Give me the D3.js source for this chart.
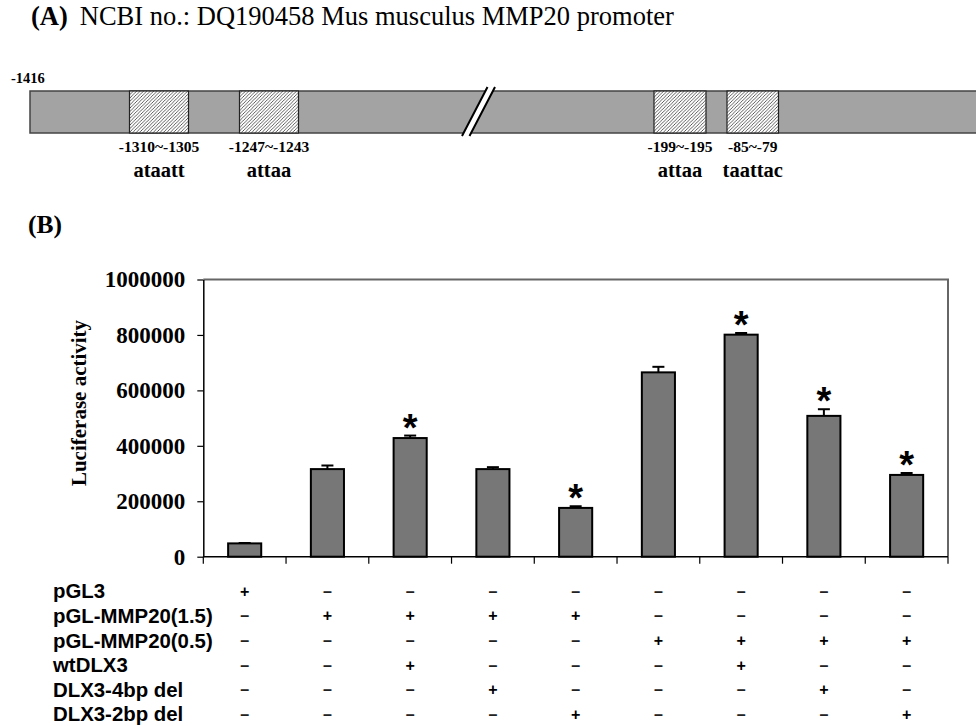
<!DOCTYPE html>
<html>
<head>
<meta charset="utf-8">
<script src="https://cdn.jsdelivr.net/npm/d3@7/dist/d3.min.js"></script>
<style>
  body { margin: 0; background: #fff; }
  .serif { font-family: "Liberation Serif", "Times New Roman", serif; }
  .sans { font-family: "Liberation Sans", Arial, sans-serif; }
</style>
</head>
<body>
<svg id="fig" width="976" height="726"></svg>
<script>
// (A) promoter motifs
let motifStart = [-1310, -1247, -199, -85];
let motifEnd = [-1305, -1243, -195, -79];
let motifSeq = ["ataatt", "attaa", "attaa", "taattac"];
let promoterStart = -1416;

// (B) luciferase assay
let groups = ["1", "2", "3", "4", "5", "6", "7", "8", "9"];
let luciferase = [48000, 316000, 428000, 316000, 176000, 665000, 801000, 508000, 295000];
let errors = [1500, 13000, 9000, 7000, 6000, 20000, 6000, 24000, 7000];
let significant = [false, false, true, false, true, false, true, true, true];
let yTicks = [0, 200000, 400000, 600000, 800000, 1000000];

let constructs = ["pGL3", "pGL-MMP20(1.5)", "pGL-MMP20(0.5)", "wtDLX3", "DLX3-4bp del", "DLX3-2bp del"];
let design = [
  ["+", "–", "–", "–", "–", "–", "–", "–", "–"],
  ["–", "+", "+", "+", "+", "–", "–", "–", "–"],
  ["–", "–", "–", "–", "–", "+", "+", "+", "+"],
  ["–", "–", "+", "–", "–", "–", "+", "–", "–"],
  ["–", "–", "–", "+", "–", "–", "–", "+", "–"],
  ["–", "–", "–", "–", "+", "–", "–", "–", "+"]
];

let svg = d3.select("#fig");

// ---------- panel A ----------
let title = svg.append("text").attr("class", "serif")
  .attr("x", 31).attr("y", 25).attr("font-size", 26.5);
title.append("tspan").attr("font-weight", "bold").text("(A)");
title.append("tspan").attr("dx", 12).text("NCBI no.: DQ190458 Mus musculus MMP20 promoter");

// schematic (not to scale) piecewise position scale
let pos = d3.scaleLinear()
  .domain([-1416, -1310, -1305, -1247, -1243, -199, -195, -85, -79, 0])
  .range([30, 129.5, 188.5, 239.5, 298.5, 654, 706, 727, 778.5, 976]);

let defs = svg.append("defs");
let pat = defs.append("pattern").attr("id", "hatch")
  .attr("patternUnits", "userSpaceOnUse").attr("width", 3.4).attr("height", 3.4);
pat.append("rect").attr("width", 3.4).attr("height", 3.4).attr("fill", "#fff");
pat.append("path").attr("d", "M-1,1 l2,-2 M0,3.4 l3.4,-3.4 M2.4,4.4 l2,-2")
  .attr("stroke", "#333").attr("stroke-width", 0.8);

let barTop = 91, barBot = 133;
svg.append("rect")
  .attr("x", pos(promoterStart)).attr("y", barTop)
  .attr("width", pos(0) - pos(promoterStart) + 5).attr("height", barBot - barTop)
  .attr("fill", "#a3a3a3").attr("stroke", "#444").attr("stroke-width", 1.5);

svg.selectAll("rect.motif").data(motifStart).join("rect").attr("class", "motif")
  .attr("x", (d) => pos(d)).attr("y", barTop)
  .attr("width", (d, i) => pos(motifEnd[i]) - pos(d)).attr("height", barBot - barTop)
  .attr("fill", "url(#hatch)").attr("stroke", "#222").attr("stroke-width", 1.2);

// break mark
svg.append("path").attr("d", "M462,136 L487.5,87 L495,87 L469.5,136 Z").attr("fill", "#fff");
svg.append("path").attr("d", "M462,136 L487.5,87 M469.5,136 L495,87")
  .attr("stroke", "#000").attr("stroke-width", 2);

svg.append("text").attr("class", "serif")
  .attr("x", 11).attr("y", 83).attr("font-size", 14.5).attr("font-weight", "bold")
  .text(promoterStart);

svg.selectAll("text.range").data(motifStart).join("text").attr("class", "range serif")
  .attr("x", (d, i) => (pos(d) + pos(motifEnd[i])) / 2).attr("y", 151.5)
  .attr("text-anchor", "middle").attr("font-size", 15.5).attr("font-weight", "bold")
  .text((d, i) => d + "~" + motifEnd[i]);

svg.selectAll("text.seq").data(motifSeq).join("text").attr("class", "seq serif")
  .attr("x", (d, i) => (pos(motifStart[i]) + pos(motifEnd[i])) / 2).attr("y", 176.5)
  .attr("text-anchor", "middle").attr("font-size", 20.5).attr("font-weight", "bold")
  .text((d) => d);

// ---------- panel B ----------
svg.append("text").attr("class", "serif")
  .attr("x", 28).attr("y", 233).attr("font-size", 25.5).attr("font-weight", "bold")
  .text("(B)");

let plotLeft = 203.3, plotRight = 948, plotTop = 279.5, plotZero = 556.7;
let x = d3.scaleBand().domain(groups).range([plotLeft, plotRight]).paddingInner(0.6).paddingOuter(0.3);
let y = d3.scaleLinear().domain([0, 1000000]).range([plotZero, plotTop]);

// frame
svg.append("path")
  .attr("d", `M${plotLeft},${plotTop} H${plotRight} V${plotZero}`)
  .attr("fill", "none").attr("stroke", "#666").attr("stroke-width", 2);

let yAxis = svg.append("g").attr("transform", `translate(${plotLeft},0)`)
  .call(d3.axisLeft(y).tickValues(yTicks).tickSize(6).tickSizeOuter(0).tickPadding(12)
    .tickFormat(d3.format("d")));
yAxis.selectAll("text").attr("class", "serif").attr("font-size", 23)
  .attr("font-weight", "bold").attr("fill", "#000");
yAxis.select(".domain").attr("stroke-width", 1.5);
yAxis.selectAll(".tick line").attr("stroke-width", 1.2);

svg.append("text").attr("class", "serif")
  .attr("transform", "translate(86,403) rotate(-90)")
  .attr("text-anchor", "middle").attr("font-size", 21).attr("font-weight", "bold")
  .text("Luciferase activity");

// x axis with boundary ticks
svg.append("line").attr("x1", plotLeft).attr("x2", plotRight).attr("y1", plotZero).attr("y2", plotZero)
  .attr("stroke", "#000").attr("stroke-width", 1.5);
let step = x.step();
let bounds = [groups[0]].concat(groups).map((g, i) =>
  i === 0 ? x(g) + x.bandwidth() / 2 - step / 2 : x(g) + x.bandwidth() / 2 + step / 2);
svg.selectAll("line.btick").data(bounds).join("line").attr("class", "btick")
  .attr("x1", (d) => d).attr("x2", (d) => d).attr("y1", plotZero).attr("y2", plotZero + 7)
  .attr("stroke", "#000").attr("stroke-width", 1.2);

// error bars
let eb = svg.selectAll("g.err").data(groups).join("g").attr("class", "err");
eb.append("line")
  .attr("x1", (g) => x(g) + x.bandwidth() / 2).attr("x2", (g) => x(g) + x.bandwidth() / 2)
  .attr("y1", (g, i) => y(luciferase[i])).attr("y2", (g, i) => y(luciferase[i] + errors[i]))
  .attr("stroke", "#000").attr("stroke-width", 2);
eb.append("line")
  .attr("x1", (g) => x(g) + x.bandwidth() / 2 - 6).attr("x2", (g) => x(g) + x.bandwidth() / 2 + 6)
  .attr("y1", (g, i) => y(luciferase[i] + errors[i])).attr("y2", (g, i) => y(luciferase[i] + errors[i]))
  .attr("stroke", "#000").attr("stroke-width", 2);

// bars
svg.selectAll("rect.bar").data(groups).join("rect").attr("class", "bar")
  .attr("x", (g) => x(g)).attr("width", x.bandwidth())
  .attr("y", (g, i) => y(luciferase[i])).attr("height", (g, i) => plotZero - y(luciferase[i]))
  .attr("fill", "#777").attr("stroke", "#000").attr("stroke-width", 2);

// significance stars
svg.selectAll("text.star").data(groups.filter((g, i) => significant[i])).join("text")
  .attr("class", "star sans")
  .attr("x", (g) => x(g) + x.bandwidth() / 2)
  .attr("y", (g) => { let i = groups.indexOf(g); return y(luciferase[i] + errors[i]) + 5; })
  .attr("text-anchor", "middle").attr("font-size", 38).attr("font-weight", "bold")
  .text("*");

// design table
let row = d3.scalePoint().domain(constructs).range([591, 714]);
svg.selectAll("text.rowlab").data(constructs).join("text").attr("class", "rowlab sans")
  .attr("x", 53).attr("y", (c) => row(c)).attr("dy", "0.36em")
  .attr("font-size", 20.4).attr("font-weight", "bold")
  .text((c) => c);

constructs.forEach((c, r) => {
  svg.selectAll("text.cell" + r).data(groups).join("text").attr("class", "sans cell" + r)
    .attr("x", (g) => x(g) + x.bandwidth() / 2).attr("y", row(c)).attr("dy", "0.36em")
    .attr("text-anchor", "middle").attr("font-size", 16).attr("font-weight", "bold")
    .attr("fill", (g, i) => design[r][i] === "+" ? "#000" : "#222")
    .text((g, i) => design[r][i]);
});
</script>
</body>
</html>
